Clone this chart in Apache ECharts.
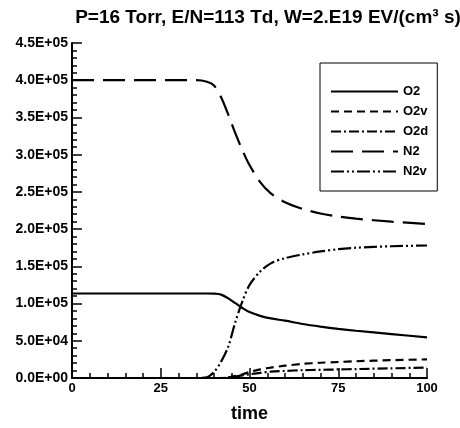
<!DOCTYPE html>
<html><head><meta charset="utf-8">
<script src="https://cdn.jsdelivr.net/npm/echarts@6/dist/echarts.min.js"></script>
<style>html,body{margin:0;padding:0;background:#fff}#c{width:460px;height:428px}</style>
</head><body><div id="c"></div>
<script>
const titleText = 'P=16 Torr, E/N=113 Td, W=2.E19 EV/(cm³ s)';
const xName = 'time';
const seriesNames = ['O2', 'O2v', 'O2d', 'N2', 'N2v'];
const t    = [0, 10, 20, 30, 35, 38, 40, 42, 44, 46, 48, 50, 53, 56, 60, 65, 70, 75, 80, 90, 100];
const O2   = [113500,113500,113500,113500,113500,113500,113300,112000,107000,100500,94000,88500,83500,80000,77000,72500,69000,66000,63500,59000,54500];
const O2v  = [0,0,0,0,0,0,0,0,1000,3000,5000,8000,11500,14000,16500,19000,20500,21500,22500,24000,25000];
const O2d  = [0,0,0,0,0,0,0,0,500,2000,3500,5000,7000,8500,9500,10500,11000,11500,12000,13000,14000];
const N2   = [400000,400000,400000,400000,400000,398000,393000,377000,354000,329000,306000,286000,263000,248000,236000,227000,221000,217000,214000,210000,207000];
const N2v  = [0,0,0,0,0,1000,8000,22000,42000,75000,103000,125000,143000,154000,161000,166000,170000,173000,175000,177000,178000];
const xTicks = {min: 0, max: 100, interval: 25};
const yTicks = {min: 0, max: 450000, interval: 50000};

const values = [O2, O2v, O2d, N2, N2v];
const dashes = ['solid', [8, 5], [10, 3, 2, 3], [22, 9], [13, 3, 2, 3, 2, 3]];

function fmtE(v) {
  if (v === 0) return '0.0E+00';
  let e = Math.floor(Math.log10(Math.abs(v)));
  let m = v / Math.pow(10, e);
  if (Math.round(m * 10) / 10 >= 10) { m /= 10; e += 1; }
  const es = (e < 0 ? '-' : '+') + String(Math.abs(e)).padStart(2, '0');
  return m.toFixed(1) + 'E' + es;
}

const chart = echarts.init(document.getElementById('c'), null, {renderer: 'canvas'});
const font = 'Liberation Sans, Arial, Helvetica, sans-serif';
chart.setOption({
  animation: false,
  backgroundColor: '#fff',
  title: {
    text: titleText, left: 263, top: 3, textAlign: 'center',
    textStyle: {fontFamily: font, fontWeight: 'bold', fontSize: 19, color: '#000'}
  },
  legend: {
    orient: 'vertical', left: 320, top: 63, align: 'left',
    padding: [22, 9, 13, 10], itemGap: 7, itemWidth: 67, itemHeight: 14,
    borderColor: '#000', borderWidth: 1,
    itemStyle: {opacity: 0},
    textStyle: {fontFamily: font, fontWeight: 'bold', fontSize: 13, color: '#000'},
    data: seriesNames
  },
  grid: {left: 72, right: 33, top: 43, bottom: 48, containLabel: false},
  xAxis: {
    type: 'value', min: xTicks.min, max: xTicks.max, interval: xTicks.interval,
    name: xName, nameLocation: 'middle', nameGap: 27,
    nameTextStyle: {fontFamily: font, fontWeight: 'bold', fontSize: 18, color: '#000'},
    axisLine: {lineStyle: {color: '#000', width: 2}},
    axisTick: {inside: true, length: 10, lineStyle: {color: '#000', width: 1.5}},
    minorTick: {show: true, splitNumber: 5, length: 5, lineStyle: {color: '#000', width: 1.5}},
    axisLabel: {fontFamily: font, fontWeight: 'bold', fontSize: 13, color: '#000', margin: 4},
    splitLine: {show: false}
  },
  yAxis: {
    type: 'value', min: yTicks.min, max: yTicks.max, interval: yTicks.interval,
    axisLine: {show: true, lineStyle: {color: '#000', width: 2}},
    axisTick: {show: true, inside: true, length: 10, lineStyle: {color: '#000', width: 1.5}},
    minorTick: {show: true, splitNumber: 5, length: 5, lineStyle: {color: '#000', width: 1.5}},
    axisLabel: {fontFamily: font, fontWeight: 'bold', fontSize: 14, color: '#000', margin: 4, formatter: fmtE},
    splitLine: {show: false}
  },
  series: seriesNames.map((n, i) => ({
    name: n, type: 'line', showSymbol: false, symbol: 'none',
    smooth: 0.3,
    data: t.map((x, k) => [x, values[i][k]]),
    lineStyle: {color: '#000', width: 2.2, type: dashes[i]},
    itemStyle: {color: '#000'}
  }))
});
</script></body></html>
